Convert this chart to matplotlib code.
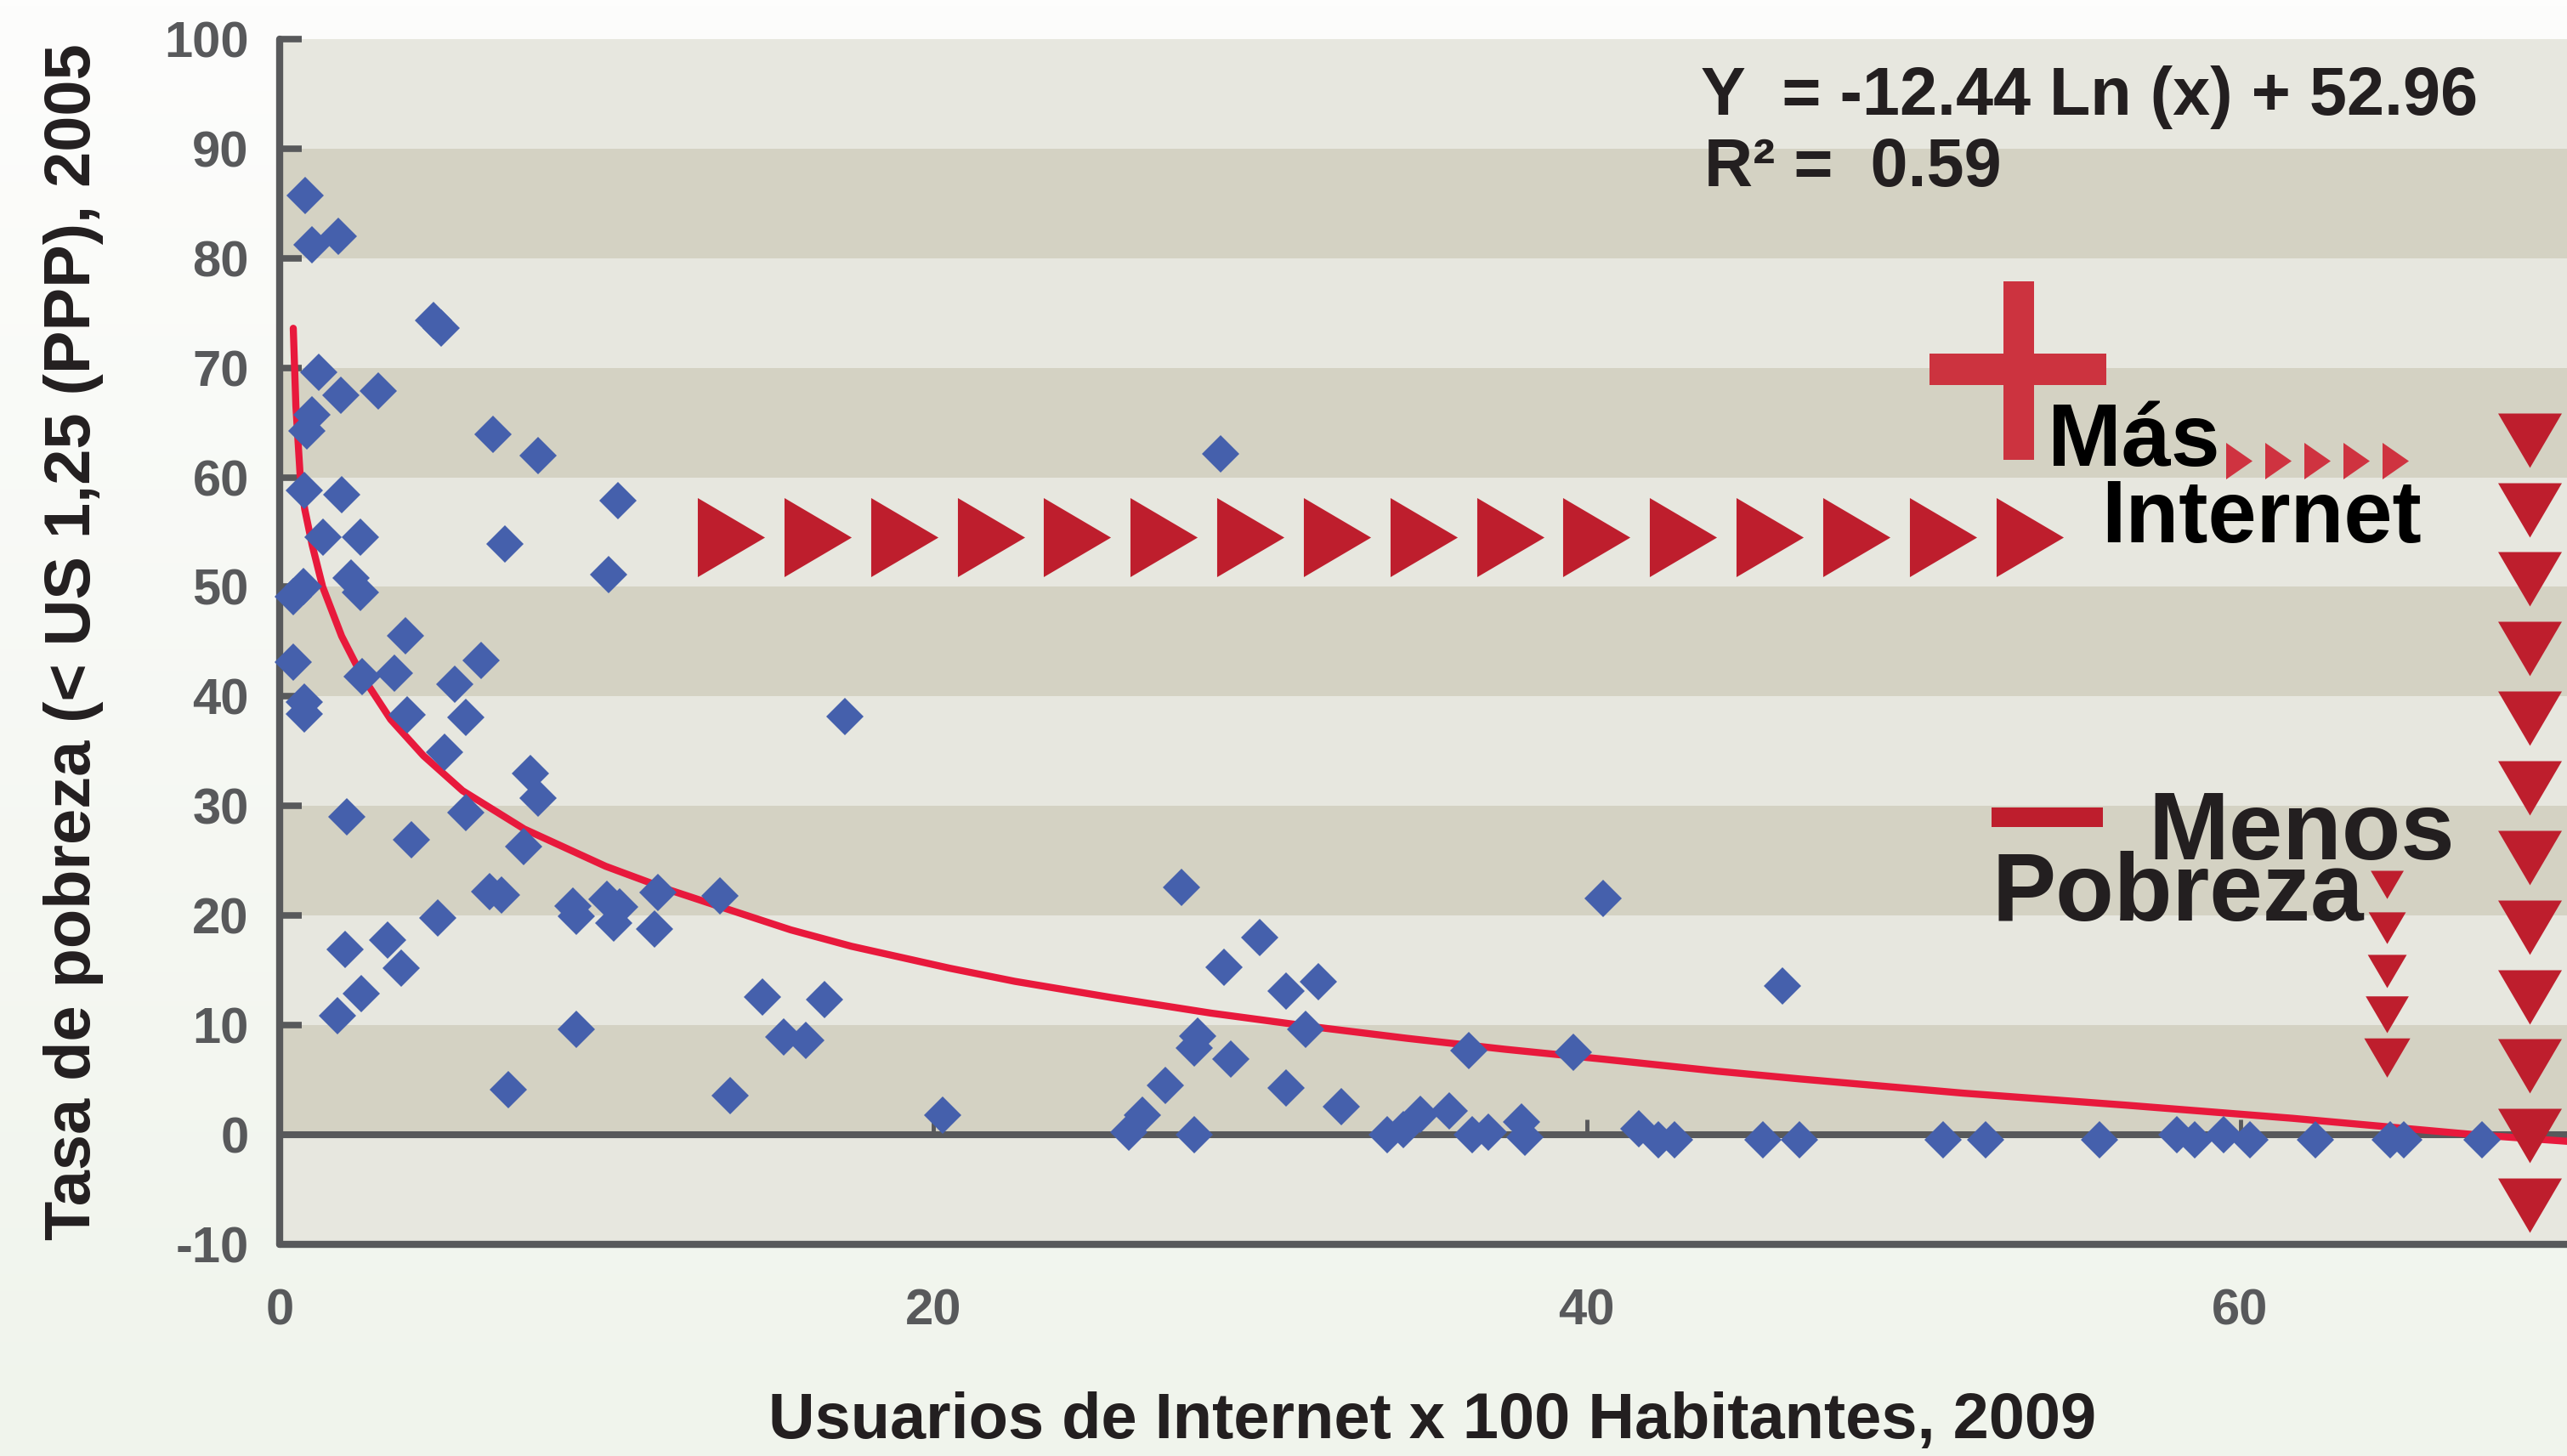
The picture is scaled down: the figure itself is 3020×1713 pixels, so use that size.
import numpy as np
import matplotlib
matplotlib.use("Agg")
import matplotlib.pyplot as plt
from matplotlib.path import Path
from matplotlib.patches import Rectangle
from matplotlib.colors import LinearSegmentedColormap

# Usuarios de Internet x 100 hab. (2009) y tasa de pobreza (2005)
usuarios = [0.78, 1.00, 1.79, 4.70, 4.95, 1.21, 1.87, 3.01, 1.00, 0.83,
            6.54, 7.91, 0.75, 1.89, 1.32, 2.47, 6.90, 10.08, 10.35, 0.74,
            0.42, 2.20, 2.47, 3.86, 0.42, 6.17, 2.52, 3.51, 5.35, 0.75,
            0.75, 3.91, 5.70, 5.06, 7.67, 7.91, 2.07, 5.70, 4.04, 7.47,
            6.43, 6.78, 8.97, 9.09, 10.02, 10.40, 10.22, 11.58, 11.48, 13.47,
            4.85, 2.00, 3.31, 3.73, 2.51, 1.77, 9.08, 6.99, 13.80, 14.79,
            16.67, 15.43, 16.11, 17.30, 20.30, 26.00, 26.40, 27.10, 27.60, 28.00,
            28.10, 28.00, 28.80, 28.90, 29.10, 30.00, 30.80, 31.80, 31.40, 30.80,
            32.50, 33.90, 34.40, 34.90, 35.80, 36.40, 36.50, 37.00, 38.00, 38.10,
            39.60, 40.50, 41.60, 42.20, 42.70, 45.40, 46.00, 46.50, 50.90, 52.20,
            55.70, 58.05, 58.60, 59.50, 60.30, 62.30, 64.60, 65.00, 67.40]
pobreza = [85.7, 81.2, 82.0, 74.3, 73.6, 69.6, 67.5, 67.9, 65.7, 64.2,
           63.9, 62.0, 58.8, 58.4, 54.5, 54.5, 53.9, 51.1, 57.9, 50.0,
           49.1, 50.8, 49.5, 45.5, 43.1, 43.3, 41.8, 42.1, 41.1, 39.5,
           38.4, 38.3, 38.1, 34.9, 33.0, 30.7, 29.0, 29.4, 26.9, 26.3,
           22.2, 21.9, 20.9, 19.9, 21.5, 20.8, 19.3, 22.1, 18.8, 21.8,
           19.8, 16.9, 17.8, 15.2, 12.9, 10.9, 9.6, 4.1, 3.6, 12.6,
           12.35, 8.9, 8.6, 38.2, 1.75, 0.2, 1.75, 4.5, 22.6, 0.0,
           9.0, 7.9, 62.1, 15.3, 6.9, 18.0, 13.1, 14.0, 9.6, 4.25,
           2.6, 0.0, 0.5, 1.9, 2.2, 7.7, 0.0, 0.2, 1.2, -0.25,
           7.5, 21.6, 0.55, -0.5, -0.5, -0.5, 13.6, -0.5, -0.5, -0.5,
           -0.5, 0.0, -0.5, 0.0, -0.5, -0.5, -0.5, -0.5, -0.5]

# curva de tendencia logaritmica
tendencia_x = [0.42, 0.50, 0.63, 0.77, 1.00, 1.32, 1.90, 2.50, 3.40, 4.40, 5.60, 7.49,
               9.98, 11.97, 13.9, 15.64, 17.5, 20.5, 22.5, 25.5, 28.5, 31.5, 34.5,
               37.5, 40.5, 44.0, 46.5, 51.5, 56.5, 61.6, 67.2, 70.0]
tendencia_y = [73.6, 66.5, 60.2, 57.1, 53.8, 50.0, 45.5, 42.0, 37.9, 34.6, 31.4, 27.9,
               24.5, 22.3, 20.4, 18.7, 17.2, 15.2, 14.0, 12.5, 11.1, 9.9, 8.8,
               7.8, 6.9, 5.8, 5.1, 3.8, 2.7, 1.5, 0.0, -0.6]

y_ticks = [-10, 0, 10, 20, 30, 40, 50, 60, 70, 80, 90, 100]
x_ticks = [0, 20, 40, 60]

ecuacion = "Y  = -12.44 Ln (x) + 52.96"
r2 = "R² =  0.59"

GRIS = "#58595B"
NEGRO = "#231F20"
AZUL = "#4560AC"
ROJO = "#BE1E2D"
ROJO_CLARO = "#CC333F"
ROJO_LINEA = "#E8193C"
BANDA_CLARA = "#E7E7DF"
BANDA_OSCURA = "#D4D2C3"

plt.rcParams["font.family"] = ["Liberation Sans", "DejaVu Sans"]
plt.rcParams["font.weight"] = "bold"
plt.rcParams["axes.labelweight"] = "bold"
plt.rcParams["axes.unicode_minus"] = False

fig = plt.figure(figsize=(30.2, 17.13), dpi=100)

# fondo con un degradado suave
bg = fig.add_axes([0, 0, 1, 1], zorder=-10)
cmap = LinearSegmentedColormap.from_list("fondo", ["#FDFDFC", "#F0F4EC"])
bg.imshow(np.linspace(0, 1, 256).reshape(-1, 1), aspect="auto", cmap=cmap, extent=[0, 1, 0, 1])
bg.axis("off")

ax = fig.add_axes([0.1089, 0.1454, 0.8911, 0.8278])
ax.set_facecolor("none")
ax.set_xlim(0, 70)
ax.set_ylim(-10, 100)

# bandas horizontales alternas
for lo, hi in zip(y_ticks[:-1], y_ticks[1:]):
    color = BANDA_CLARA if (hi // 10) % 2 == 0 else BANDA_OSCURA
    ax.axhspan(lo, hi, color=color, lw=0, zorder=0)

for side in ["top", "right"]:
    ax.spines[side].set_visible(False)
for side in ["left", "bottom"]:
    ax.spines[side].set_color(GRIS)
    ax.spines[side].set_linewidth(6)
    ax.spines[side].set_capstyle("round")

ax.axhline(0, color=GRIS, lw=5.8, zorder=2)
ax.vlines(x_ticks[1:], 0, 1.4, color=GRIS, lw=3.5, zorder=2)

ax.set_yticks(y_ticks)
ax.set_xticks(x_ticks)
ax.tick_params(axis="y", direction="in", length=19, width=5.5, color=GRIS, pad=26,
               labelsize=43, labelcolor=GRIS)
ax.tick_params(axis="x", length=0, pad=37, labelsize=43, labelcolor=GRIS)

ax.set_xlabel("Usuarios de Internet x 100 Habitantes, 2009", fontsize=54.5, color=NEGRO)
ax.xaxis.set_label_coords(0.504, -0.122)
ax.set_ylabel("Tasa de pobreza (< US 1,25 (PPP), 2005", fontsize=54.5, color=NEGRO)
ax.yaxis.set_label_coords(-0.077, 0.5)

# tendencia y puntos
ax.plot(tendencia_x, tendencia_y, color=ROJO_LINEA, lw=6, solid_capstyle="round",
        solid_joinstyle="round", zorder=4)
ax.plot(usuarios, pobreza, ls="none", marker="D", ms=22.5, mfc=AZUL, mew=0,
        zorder=5, clip_on=False)

# ecuacion de la tendencia
ax.text(43.5, 93.1, ecuacion, fontsize=57, color=NEGRO, va="baseline")
ax.text(43.6, 86.6, r2, fontsize=57, color=NEGRO, va="baseline")

# flechas decorativas
tri_der = Path([(-0.85, -1), (0.85, 0), (-0.85, 1), (-0.85, -1)], closed=True)
tri_der_fino = Path([(-0.72, -1), (0.72, 0), (-0.72, 1), (-0.72, -1)], closed=True)
tri_abajo = Path([(-1, 0.853), (1, 0.853), (0, -0.853), (-1, 0.853)], closed=True)

fila_x = np.linspace(13.82, 53.55, 16)
ax.plot(fila_x, np.full(16, 54.55), ls="none", marker=tri_der, ms=67, mfc=ROJO, mew=0, zorder=3)

col_y = np.linspace(63.4, -6.45, 12)
ax.plot(np.full(12, 68.85), col_y, ls="none", marker=tri_abajo, ms=54, mfc=ROJO, mew=0,
        zorder=6, clip_on=False)

chicas_y = np.linspace(22.8, 7.0, 5)
chicas_ms = np.array([28, 31.5, 33, 36.5, 39])
ax.scatter(np.full(5, 64.5), chicas_y, s=chicas_ms ** 2, marker=tri_abajo, color=ROJO,
           lw=0, zorder=6)

# logo "Mas Internet"
ax.add_patch(Rectangle((52.75, 61.6), 0.93, 16.3, color=ROJO_CLARO, lw=0, zorder=3))
ax.add_patch(Rectangle((50.5, 68.4), 5.4, 2.9, color=ROJO_CLARO, lw=0, zorder=3))
ax.text(54.1, 61.07, "Más", fontsize=75, color="black", va="baseline", zorder=7)
ax.text(55.76, 54.08, "Internet", fontsize=74, color="black", va="baseline", zorder=7)
ax.plot(np.linspace(59.95, 64.74, 5), np.full(5, 61.5), ls="none", marker=tri_der_fino,
        ms=31, mfc="#CF3340", mew=0, zorder=7)

# logo "Menos Pobreza"
ax.add_patch(Rectangle((52.4, 28.05), 3.4, 1.85, color=ROJO, lw=0, zorder=3))
ax.text(57.18, 25.12, "Menos", fontsize=82, color=NEGRO, va="baseline", zorder=7)
ax.text(52.4, 19.58, "Pobreza", fontsize=81, color=NEGRO, va="baseline", zorder=5)

fig.savefig("out.png", dpi=100)
